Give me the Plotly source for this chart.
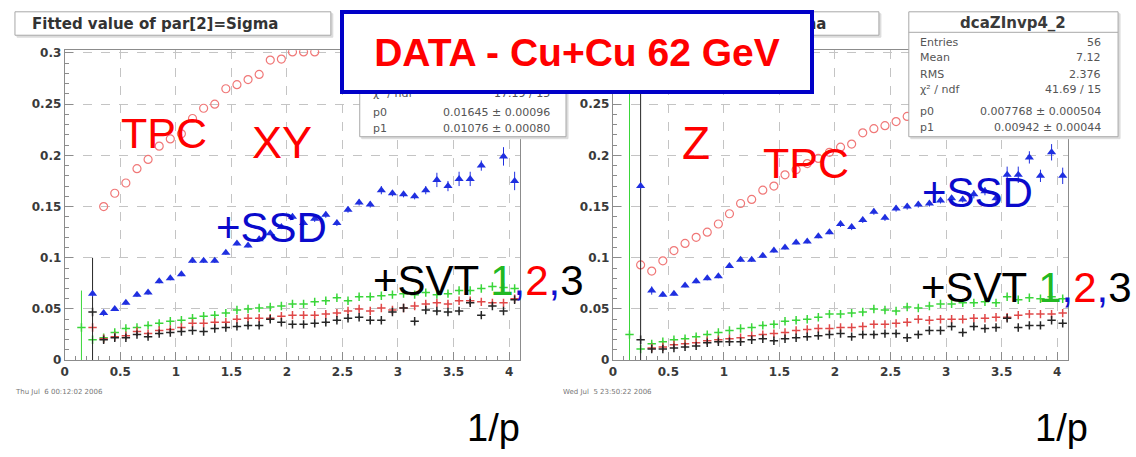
import plotly.graph_objects as go

# ---------------- data ----------------
X_BINS = [0.25, 0.35, 0.45, 0.55, 0.65, 0.75, 0.85, 0.95, 1.05, 1.15, 1.25, 1.35, 1.45,
          1.55, 1.65, 1.75, 1.85, 1.95, 2.05, 2.15, 2.25, 2.35, 2.45, 2.55, 2.65, 2.75,
          2.85, 2.95, 3.05, 3.15, 3.25, 3.35, 3.45, 3.55, 3.65, 3.75, 3.85, 3.95, 4.05]

X_TICKS = [0, 0.5, 1, 1.5, 2, 2.5, 3, 3.5, 4]
X_TICKTEXT = ["0", "0.5", "1", "1.5", "2", "2.5", "3", "3.5", "4"]
Y_TICKS = [0, 0.05, 0.1, 0.15, 0.2, 0.25, 0.3]
Y_TICKTEXT = ["0", "0.05", "0.1", "0.15", "0.2", "0.25", "0.3"]

# ---- left panel: XY ----
XY_TPC_X = [0.35, 0.45, 0.55, 0.65, 0.75, 0.85, 0.95, 1.05, 1.15, 1.25, 1.35, 1.45, 1.55,
            1.65, 1.75, 1.85, 1.95, 2.05, 2.15, 2.25]
XY_TPC = [0.150, 0.163, 0.173, 0.187, 0.196, 0.209, 0.216, 0.221, 0.236, 0.246, 0.250,
          0.265, 0.269, 0.274, 0.279, 0.293, 0.294, 0.301, 0.301, 0.301]

XY_SSD_X = [0.25, 0.35, 0.45, 0.55, 0.65, 0.75, 0.85, 0.95, 1.05, 1.15, 1.25, 1.35, 1.45,
            1.55, 1.65, 1.75, 1.85, 1.95, 2.05, 2.15, 2.25, 2.35, 2.45, 2.55, 2.65, 2.75,
            2.85, 2.95, 3.05, 3.15, 3.25, 3.35, 3.45, 3.55, 3.65, 3.75, 3.95, 4.05]
XY_SSD = [0.065, 0.046, 0.050, 0.056, 0.064, 0.066, 0.077, 0.080, 0.084, 0.097, 0.097,
          0.097, 0.105, 0.114, 0.112, 0.118, 0.124, 0.130, 0.140, 0.134, 0.138, 0.142,
          0.134, 0.147, 0.154, 0.152, 0.166, 0.163, 0.162, 0.160, 0.166, 0.176, 0.170,
          0.177, 0.177, 0.190, 0.199, 0.175]
XY_SSD_ERR = [0.003, 0.003, 0.002, 0.002, 0.002, 0.002, 0.002, 0.002, 0.002, 0.002, 0.002,
              0.002, 0.002, 0.002, 0.002, 0.002, 0.002, 0.002, 0.003, 0.003, 0.003, 0.003,
              0.003, 0.003, 0.003, 0.003, 0.004, 0.003, 0.003, 0.003, 0.004, 0.007, 0.005,
              0.007, 0.007, 0.005, 0.009, 0.009]

XY_SVT1_X = [0.15] + X_BINS
XY_SVT1 = [0.032, 0.020, 0.022, 0.027, 0.031, 0.032, 0.034, 0.036, 0.038, 0.039, 0.041,
           0.043, 0.044, 0.046, 0.049, 0.050, 0.051, 0.052, 0.053, 0.055, 0.055, 0.057,
           0.058, 0.061, 0.058, 0.062, 0.062, 0.063, 0.064, 0.065, 0.064, 0.066, 0.064,
           0.065, 0.068, 0.068, 0.070, 0.072, 0.071, 0.070]
XY_SVT1_ERR = [0.036] + [0.0015] * 39

XY_SVT2 = [0.032, 0.021, 0.023, 0.024, 0.028, 0.026, 0.029, 0.030, 0.032, 0.036, 0.036,
           0.037, 0.037, 0.040, 0.041, 0.041, 0.041, 0.043, 0.044, 0.044, 0.044, 0.045,
           0.046, 0.048, 0.050, 0.048, 0.051, 0.049, 0.051, 0.053, 0.055, 0.056, 0.055,
           0.058, 0.058, 0.057, 0.056, 0.056, 0.060]
XY_SVT2_ERR = [0.004] + [0.0015] * 38

XY_SVT3 = [0.047, 0.020, 0.022, 0.022, 0.025, 0.023, 0.026, 0.027, 0.028, 0.029, 0.028,
           0.031, 0.032, 0.033, 0.034, 0.034, 0.040, 0.037, 0.035, 0.035, 0.036, 0.037,
           0.039, 0.041, 0.042, 0.039, 0.039, 0.047, 0.051, 0.038, 0.049, 0.048, 0.047,
           0.048, 0.056, 0.044, 0.053, 0.048, 0.059]
XY_SVT3_ERR = [0.053] + [0.0015] * 38

# ---- right panel: Z ----
Z_TPC_X = [0.25, 0.35, 0.45, 0.55, 0.65, 0.75, 0.85, 0.95, 1.05, 1.15, 1.25, 1.35, 1.45,
           1.55, 1.65, 1.75, 1.85, 1.95, 2.05, 2.15, 2.25, 2.35, 2.45, 2.55, 2.65]
Z_TPC = [0.093, 0.087, 0.097, 0.107, 0.114, 0.120, 0.125, 0.133, 0.143, 0.153, 0.157,
         0.166, 0.170, 0.181, 0.186, 0.192, 0.197, 0.203, 0.208, 0.211, 0.222, 0.226,
         0.229, 0.233, 0.238]

Z_SSD = [0.170, 0.068, 0.064, 0.065, 0.073, 0.077, 0.080, 0.082, 0.092, 0.098, 0.098,
         0.102, 0.107, 0.110, 0.115, 0.116, 0.121, 0.125, 0.133, 0.130, 0.137, 0.145,
         0.139, 0.148, 0.150, 0.152, 0.153, 0.156, 0.158, 0.157, 0.162, 0.165, 0.158,
         0.181, 0.181, 0.198, 0.180, 0.203, 0.180]
Z_SSD_ERR = [0.003, 0.004, 0.002, 0.002, 0.002, 0.002, 0.002, 0.002, 0.002, 0.002, 0.002,
             0.002, 0.002, 0.002, 0.002, 0.002, 0.002, 0.002, 0.003, 0.003, 0.003, 0.003,
             0.003, 0.003, 0.003, 0.003, 0.003, 0.003, 0.003, 0.003, 0.004, 0.004, 0.004,
             0.008, 0.008, 0.006, 0.006, 0.008, 0.008]

Z_SVT1_X = [0.15] + X_BINS
Z_SVT1 = [0.025, 0.011, 0.016, 0.018, 0.020, 0.021, 0.023, 0.025, 0.027, 0.029, 0.031,
          0.032, 0.034, 0.035, 0.038, 0.039, 0.040, 0.042, 0.045, 0.045, 0.046, 0.047,
          0.050, 0.049, 0.048, 0.052, 0.051, 0.053, 0.055, 0.055, 0.056, 0.056, 0.057,
          0.056, 0.062, 0.059, 0.061, 0.060, 0.062, 0.060]
Z_SVT1_ERR = [0.30] + [0.0015] * 39

Z_SVT2_X = X_BINS[1:]
Z_SVT2 = [0.012, 0.013, 0.015, 0.016, 0.017, 0.019, 0.020, 0.021, 0.022, 0.024, 0.025,
          0.026, 0.027, 0.029, 0.030, 0.031, 0.031, 0.032, 0.032, 0.033, 0.035, 0.035,
          0.036, 0.037, 0.040, 0.039, 0.040, 0.040, 0.040, 0.041, 0.041, 0.042, 0.042,
          0.044, 0.045, 0.045, 0.045, 0.046]

Z_SVT3 = [0.020, 0.011, 0.011, 0.012, 0.013, 0.014, 0.017, 0.018, 0.018, 0.018, 0.020,
          0.021, 0.019, 0.021, 0.022, 0.023, 0.024, 0.025, 0.026, 0.023, 0.025, 0.025,
          0.026, 0.026, 0.022, 0.025, 0.029, 0.029, 0.033, 0.027, 0.033, 0.031, 0.032,
          0.041, 0.032, 0.034, 0.034, 0.039, 0.036]
Z_SVT3_ERR = [0.30] + [0.0015] * 38

STATS_LEFT = [("χ² / ndf", "17.19 / 15"), ("p0", "0.01645 ± 0.00096"), ("p1", "0.01076 ± 0.00080")]
STATS_RIGHT = [("Entries", "56"), ("Mean", "7.12"), ("RMS", "2.376"), ("χ² / ndf", "41.69 / 15"),
               ("p0", "0.007768 ± 0.000504"), ("p1", "0.00942 ± 0.00044")]

# ---------------- figure ----------------
W, H = 1136, 457


def fx(p):
    return p / W


def fy(p):
    return 1 - p / H


RED = "#ff0000"
BLUE = "#0a0acc"
C_TPC = "#f07878"
C_SSD = "#1f2fe0"
C_G = "#3ad63a"
C_R = "#e04848"
C_K = "#262626"

fig = go.Figure()


def add(x, y, err, color, symbol, size, xa, ya, lw=1.2):
    ey = dict(type="data", array=err, visible=True, color=color, thickness=1, width=0) if err is not None else None
    fig.add_trace(go.Scatter(
        x=x, y=y, mode="markers", xaxis=xa, yaxis=ya,
        marker=dict(symbol=symbol, size=size, color=color, line=dict(color=color, width=lw)),
        error_y=ey, showlegend=False, cliponaxis=True))


# left panel
add(XY_TPC_X, XY_TPC, None, C_TPC, "circle-open", 8, "x", "y")
add(XY_SVT1_X, XY_SVT1, XY_SVT1_ERR, C_G, "cross-thin", 6, "x", "y", 1.5)
add(X_BINS, XY_SVT2, XY_SVT2_ERR, C_R, "cross-thin", 6, "x", "y", 1.5)
add(X_BINS, XY_SVT3, XY_SVT3_ERR, C_K, "cross-thin", 6, "x", "y", 1.5)
add(XY_SSD_X, XY_SSD, XY_SSD_ERR, C_SSD, "triangle-up", 8, "x", "y", 0)
# right panel
add(Z_TPC_X, Z_TPC, None, C_TPC, "circle-open", 8, "x2", "y2")
add(Z_SVT1_X, Z_SVT1, Z_SVT1_ERR, C_G, "cross-thin", 6, "x2", "y2", 1.5)
add(Z_SVT2_X, Z_SVT2, None, C_R, "cross-thin", 6, "x2", "y2", 1.5)
add(X_BINS, Z_SVT3, Z_SVT3_ERR, C_K, "cross-thin", 6, "x2", "y2", 1.5)
add(X_BINS, Z_SSD, Z_SSD_ERR, C_SSD, "triangle-up", 8, "x2", "y2", 0)

AX = "#8c8c8c"
tickfont = dict(family="DejaVu Sans", size=12, color="#3a3a3a", weight="bold")


def xax(dom, anchor):
    return dict(domain=dom, anchor=anchor, range=[0, 4.1], tickmode="array", tickvals=X_TICKS,
                ticktext=X_TICKTEXT, ticks="inside", ticklen=8, tickcolor=AX, showline=True,
                linecolor=AX, linewidth=1, mirror=True, showgrid=True, gridcolor="#c4c4c4",
                griddash="dash", zeroline=False, tickfont=tickfont,
                minor=dict(ticks="inside", ticklen=4, tickcolor=AX, tickmode="linear", tick0=0,
                           dtick=0.1, showgrid=False))


def yax(anchor):
    return dict(domain=[fy(365), fy(47.5)], anchor=anchor, range=[0, 0.3025], tickmode="array",
                tickvals=Y_TICKS, ticktext=Y_TICKTEXT, ticks="inside", ticklen=8, tickcolor=AX,
                showline=True, linecolor=AX, linewidth=1, mirror=True, showgrid=True,
                gridcolor="#c4c4c4", griddash="dash", zeroline=False, tickfont=tickfont,
                minor=dict(ticks="inside", ticklen=4, tickcolor=AX, tickmode="linear", tick0=0,
                           dtick=0.01, showgrid=False))


shapes = []
annotations = []


def rect(x0, y0, x1, y1, line="#a8a8a8", fill="white", w=1):
    shapes.append(dict(type="rect", xref="paper", yref="paper", x0=fx(x0), x1=fx(x1), y0=fy(y1), y1=fy(y0),
                       line=dict(color=line, width=w), fillcolor=fill, layer="above"))


def hline(x0, x1, y, color="#a8a8a8"):
    shapes.append(dict(type="line", xref="paper", yref="paper", x0=fx(x0), x1=fx(x1), y0=fy(y), y1=fy(y),
                       line=dict(color=color, width=1), layer="above"))


def text(x, y, s, size, color, family="Liberation Sans, Arial, sans-serif", xanchor="left", weight="normal"):
    annotations.append(dict(x=fx(x), y=fy(y), xref="paper", yref="paper", text=s, showarrow=False,
                            xanchor=xanchor, yanchor="middle", borderpad=0,
                            font=dict(size=size, color=color, family=family, weight=weight)))


# title boxes (ROOT)
for off in (0, 550):
    rect(13 + off, 10, 330 + off, 34, line="#dcdcdc", fill="#dcdcdc")
    rect(11 + off, 8, 328 + off, 32)
    text(27 + off, 20, "Fitted value of par[2]=Sigma", 15, "#333333", "DejaVu Sans", weight="bold")

# stats boxes
rect(359, 10, 566, 138, line="#dcdcdc", fill="#dcdcdc")
rect(357, 8, 564, 136)
rect(910, 10, 1120, 138, line="#dcdcdc", fill="#dcdcdc")
rect(908, 8, 1118, 136)
hline(908, 1118, 29)
text(1013, 19, "dcaZInvp4_2", 15, "#3a3a3a", "DejaVu Sans", xanchor="center", weight="bold")
for (lab, val), yy in zip(STATS_RIGHT, [39, 55, 72, 88, 110, 127]):
    text(918, yy, lab, 11, "#555555", "DejaVu Sans")
    text(1102, yy, val, 11, "#555555", "DejaVu Sans", xanchor="right")
for (lab, val), yy in zip(STATS_LEFT, [92, 111, 128]):
    text(369, yy, lab, 11, "#555555", "DejaVu Sans")
    text(549, yy, val, 11, "#555555", "DejaVu Sans", xanchor="right")

# dates
text(10, 398, "Thu Jul  6 00:12:02 2006", 7, "#777777", "DejaVu Sans")
text(560, 398, "Wed Jul  5 23:50:22 2006", 7, "#777777", "DejaVu Sans")

# slide labels
SVT = ('+SVT <span style="color:#22b822">1</span><span style="color:#1010d0">,</span>'
       '<span style="color:#ff0000">2</span><span style="color:#1010d0">,</span>3')
text(116, 132, "TPC", 43, RED)
text(248, 142, "XY", 45, RED)
text(212, 229, "+SSD", 42, BLUE)
text(369, 283, SVT, 42, "#000000")
text(679, 142, "Z", 46, RED)
text(761, 163, "TPC", 43, RED)
text(920, 193, "+SSD", 42, BLUE)
text(919, 290, SVT, 42, "#000000")
text(464, 434, "1/p", 38, "#000000")
text(1034, 434, "1/p", 38, "#000000")

# DATA banner (drawn last so it covers the boxes beneath)
annotations.append(dict(x=fx(575), y=fy(49), xref="paper", yref="paper", text="DATA - Cu+Cu 62 GeV",
                        showarrow=False, xanchor="center", yanchor="middle", width=466, height=76,
                        bgcolor="white", bordercolor="#0000c8", borderwidth=4, borderpad=0,
                        font=dict(size=39, color=RED, weight="bold",
                                  family="Liberation Sans, Arial, sans-serif")))

fig.update_layout(
    width=W, height=H, margin=dict(l=0, r=0, t=0, b=0),
    paper_bgcolor="white", plot_bgcolor="white", showlegend=False,
    xaxis=xax([fx(61), fx(518)], "y"), yaxis=yax("x"),
    xaxis2=xax([fx(611), fx(1068)], "y2"), yaxis2=yax("x2"),
    shapes=shapes, annotations=annotations,
)

fig.write_html("out.html")
